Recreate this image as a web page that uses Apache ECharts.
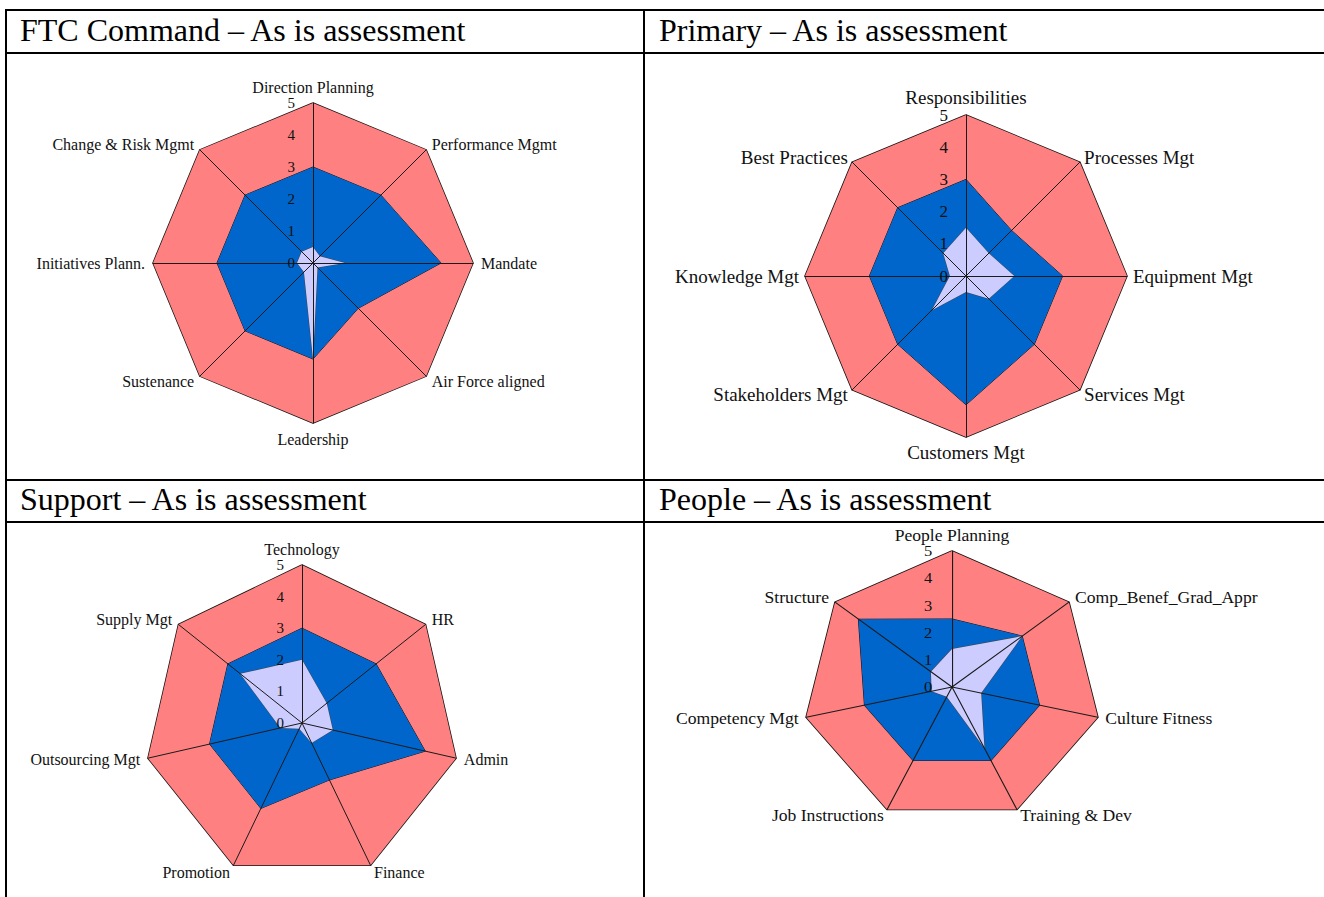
<!DOCTYPE html>
<html>
<head>
<meta charset="utf-8">
<title>As is assessment</title>
<script src="https://cdn.jsdelivr.net/npm/echarts@6/dist/echarts.min.js"></script>
<style>
  html, body { margin: 0; padding: 0; background: #fff; }
  body { width: 1324px; height: 897px; position: relative; overflow: hidden; font-family: 'Liberation Serif', 'Times New Roman', serif; }
  .rule { position: absolute; background: #000; }
  .head { position: absolute; font-size: 32px; line-height: 32px; color: #000; white-space: nowrap; }
  #chart { position: absolute; left: 0; top: 0; width: 1324px; height: 897px; }
  /* the people picture in the source is stretched sideways */
  #people { position: absolute; left: 645px; top: 523px; width: 679px; height: 374px; transform-origin: 307px 164px; transform: scaleX(1.1); }
</style>
</head>
<body>
<!-- table frame -->
<div class="rule" style="left:5px;top:9px;width:1319px;height:2px"></div>
<div class="rule" style="left:5px;top:52px;width:1319px;height:2px"></div>
<div class="rule" style="left:5px;top:479px;width:1319px;height:2px"></div>
<div class="rule" style="left:5px;top:521px;width:1319px;height:2px"></div>
<div class="rule" style="left:5px;top:9px;width:2px;height:888px"></div>
<div class="rule" style="left:643px;top:9px;width:2px;height:888px"></div>

<div class="head" style="left:20px;top:14px">FTC Command – As is assessment</div>
<div class="head" style="left:659px;top:14px">Primary – As is assessment</div>
<div class="head" style="left:20px;top:483px">Support – As is assessment</div>
<div class="head" style="left:659px;top:483px">People – As is assessment</div>

<div id="chart"></div>
<div id="people"></div>

<script>
  // scale of every radar axis
  const scaleTicks = [0, 1, 2, 3, 4, 5];

  // FTC Command (axes listed clockwise from the top)
  const ftcAxes = ['Direction Planning', 'Performance Mgmt', 'Mandate', 'Air Force aligned', 'Leadership', 'Sustenance', 'Initiatives Plann.', 'Change & Risk Mgmt'];
  const ftcTarget = [5, 5, 5, 5, 5, 5, 5, 5];
  const ftcUpper = [3, 3, 4, 2, 3, 3, 3, 3];
  const ftcAsIs = [0.5, 0.3, 1, 0.2, 3, 0.4, 0.5, 0.5];

  // Primary
  const primaryAxes = ['Responsibilities', 'Processes Mgt', 'Equipment Mgt', 'Services Mgt', 'Customers Mgt', 'Stakeholders Mgt', 'Knowledge Mgt', 'Best Practices'];
  const primaryTarget = [5, 5, 5, 5, 5, 5, 5, 5];
  const primaryUpper = [3, 2, 3, 3, 4, 3, 3, 3];
  const primaryAsIs = [1.5, 1, 1.5, 1, 0.5, 1.5, 0.5, 1];

  // Support
  const supportAxes = ['Technology', 'HR', 'Admin', 'Finance', 'Promotion', 'Outsourcing Mgt', 'Supply Mgt'];
  const supportTarget = [5, 5, 5, 5, 5, 5, 5];
  const supportUpper = [3, 3, 4, 2, 3, 3, 3];
  const supportAsIs = [2, 1, 1, 0.7, 0.2, 0.7, 2.5];

  // People
  const peopleAxes = ['People Planning', 'Comp_Benef_Grad_Appr', 'Culture Fitness', 'Training & Dev', 'Job Instructions', 'Competency Mgt', 'Structure'];
  const peopleTarget = [5, 5, 5, 5, 5, 5, 5];
  const peopleUpper = [2.5, 3, 3, 3, 3, 3, 4];
  const peopleAsIs = [1.4, 3, 1, 2.5, 0.4, 0.7, 0.9];

  const fontFamily = 'Liberation Serif';

  // echarts lays radar axes out counter-clockwise, the source charts go clockwise
  function cw(arr) {
    return [arr[0]].concat(arr.slice(1).reverse());
  }

  function makeRadar(center, radius, axes, nameSize, tickSize, nameGap) {
    return {
      center: center,
      radius: radius,
      startAngle: 90,
      shape: 'polygon',
      splitNumber: scaleTicks.length - 1,
      z: 5,
      nameGap: nameGap,
      // only the first spoke carries the 0..5 labels
      indicator: cw(axes).map((name, i) => {
        let ind = { name: name, min: scaleTicks[0], max: scaleTicks[scaleTicks.length - 1] };
        if (i === 0) ind.axisLabel = { show: true };
        return ind;
      }),
      axisName: { color: '#111', fontFamily: fontFamily, fontSize: nameSize },
      axisLine: { lineStyle: { color: '#1a1a1a', width: 1 } },
      axisTick: { show: false },
      axisLabel: { show: false, color: '#111', fontFamily: fontFamily, fontSize: tickSize, margin: 18 },
      splitLine: { show: false },
      splitArea: { show: false }
    };
  }

  function makeSeries(radarIndex, target, upper, asIs) {
    return {
      type: 'radar',
      radarIndex: radarIndex,
      z: 2,
      symbol: 'none',
      silent: true,
      data: [
        { name: 'Target', value: cw(target), areaStyle: { color: '#FF8080', opacity: 1 }, lineStyle: { color: '#111', width: 1.5 } },
        { name: 'Upper', value: cw(upper), areaStyle: { color: '#0066CC', opacity: 1 }, lineStyle: { color: '#111', width: 1 } },
        { name: 'As is', value: cw(asIs), areaStyle: { color: '#CCCCFF', opacity: 1 }, lineStyle: { color: '#444', width: 1 } }
      ]
    };
  }

  let chart = echarts.init(document.getElementById('chart'), null, { renderer: 'svg' });
  chart.setOption({
    animation: false,
    radar: [
      makeRadar([313, 263], 160, ftcAxes, 16, 15, 8),
      makeRadar([966, 276], 161, primaryAxes, 19, 17, 6),
      makeRadar([302, 723], 158, supportAxes, 16, 15, 8)
    ],
    series: [
      makeSeries(0, ftcTarget, ftcUpper, ftcAsIs),
      makeSeries(1, primaryTarget, primaryUpper, primaryAsIs),
      makeSeries(2, supportTarget, supportUpper, supportAsIs)
    ]
  });

  let peopleChart = echarts.init(document.getElementById('people'), null, { renderer: 'svg' });
  peopleChart.setOption({
    animation: false,
    radar: [makeRadar([307, 164], 136, peopleAxes, 16, 15, 7)],
    series: [makeSeries(0, peopleTarget, peopleUpper, peopleAsIs)]
  });
</script>
</body>
</html>
